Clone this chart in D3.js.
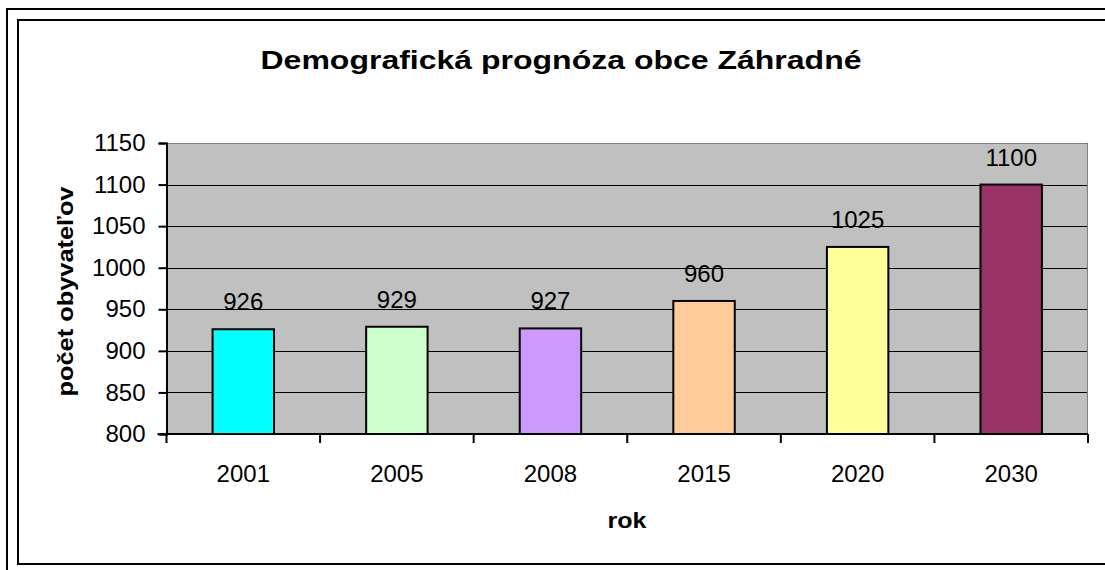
<!DOCTYPE html>
<html>
<head>
<meta charset="utf-8">
<script src="https://cdn.jsdelivr.net/npm/d3@7"></script>
<style>
  body { margin: 0; background: #fff; }
  svg { display: block; font-family: Arial, "Liberation Sans", sans-serif; }
</style>
</head>
<body>
<svg id="chart"></svg>
<script>
// chart values
const years = ["2001", "2005", "2008", "2015", "2020", "2030"];
const population = [926, 929, 927, 960, 1025, 1100];
const barColors = ["#00FFFF", "#CCFFCC", "#CC99FF", "#FFCC99", "#FFFF99", "#993366"];
const yTicks = [800, 850, 900, 950, 1000, 1050, 1100, 1150];

const titleText = "Demografická prognóza obce Záhradné";
const yTitle = "počet obyvateľov";
const xTitle = "rok";

const config = {
  width: 1105,
  height: 570,
  plot: { left: 166.5, top: 143, right: 1088, bottom: 434 },
  plotBg: "#C0C0C0",
};

const svg = d3.select("#chart")
  .attr("width", config.width)
  .attr("height", config.height);

// double frame around the chart object
svg.append("rect")
  .attr("x", 7).attr("y", 9)
  .attr("width", 1200).attr("height", 700)
  .attr("fill", "none").attr("stroke", "#000").attr("stroke-width", 2);
svg.append("rect")
  .attr("x", 18).attr("y", 20)
  .attr("width", 1200).attr("height", 544)
  .attr("fill", "none").attr("stroke", "#000").attr("stroke-width", 2);

const p = config.plot;

// scales
const xScale = d3.scaleBand().domain(years).range([p.left, p.right]).padding(0);
const yScale = d3.scaleLinear().domain([800, 1150]).range([p.bottom, p.top]);
const barWidth = xScale.bandwidth() / 2.5; // gap width 150%

// plot background
svg.append("rect")
  .attr("x", p.left).attr("y", p.top)
  .attr("width", p.right - p.left).attr("height", p.bottom - p.top)
  .attr("fill", config.plotBg);

// gridlines
svg.append("g")
  .selectAll("line")
  .data(yTicks.slice(1))
  .join("line")
  .attr("x1", p.left).attr("x2", p.right)
  .attr("y1", (d) => Math.round(yScale(d)) + 0.5)
  .attr("y2", (d) => Math.round(yScale(d)) + 0.5)
  .attr("stroke", "#000").attr("stroke-width", 1);

// plot border (top and right in gray)
svg.append("path")
  .attr("d", `M${p.left},${p.top + 0.5}H${p.right - 0.5}V${p.bottom}`)
  .attr("fill", "none").attr("stroke", "#808080").attr("stroke-width", 1);

// bars
svg.append("g")
  .selectAll("rect")
  .data(years)
  .join("rect")
  .attr("x", (d) => xScale(d) + (xScale.bandwidth() - barWidth) / 2)
  .attr("y", (d, i) => yScale(population[i]))
  .attr("width", barWidth)
  .attr("height", (d, i) => p.bottom - yScale(population[i]))
  .attr("fill", (d, i) => barColors[i])
  .attr("stroke", "#000").attr("stroke-width", 2);

// value labels
svg.append("g")
  .selectAll("text")
  .data(years)
  .join("text")
  .attr("x", (d) => xScale(d) + xScale.bandwidth() / 2)
  .attr("y", (d, i) => yScale(population[i]) - 19)
  .attr("text-anchor", "middle")
  .style("font-size", "24px")
  .attr("fill", "#000")
  .text((d, i) => population[i]);

// y axis
const yAxis = d3.axisLeft(yScale)
  .tickValues(yTicks)
  .tickFormat(d3.format("d"))
  .tickSize(8)
  .tickPadding(13);
const yAxisG = svg.append("g")
  .attr("transform", `translate(${p.left},0)`)
  .call(yAxis);
yAxisG.select(".domain").attr("stroke", "#000").attr("stroke-width", 2);
yAxisG.selectAll(".tick line").attr("stroke", "#000").attr("stroke-width", 2);
yAxisG.selectAll(".tick text")
  .style("font-size", "24px")
  .style("font-family", "Arial, 'Liberation Sans', sans-serif")
  .attr("fill", "#000");

// x axis: ticks at category boundaries
const xAxisG = svg.append("g")
  .attr("transform", `translate(0,${p.bottom})`);
xAxisG.append("line")
  .attr("x1", p.left - 9).attr("x2", p.right)
  .attr("stroke", "#000").attr("stroke-width", 2);
xAxisG.selectAll(".xtick")
  .data(years.concat(["end"]))
  .join("line")
  .attr("class", "xtick")
  .attr("x1", (d) => (d === "end" ? p.right : xScale(d)))
  .attr("x2", (d) => (d === "end" ? p.right : xScale(d)))
  .attr("y1", 0).attr("y2", 9)
  .attr("stroke", "#000").attr("stroke-width", 2);
xAxisG.selectAll(".xlabel")
  .data(years)
  .join("text")
  .attr("class", "xlabel")
  .attr("x", (d) => xScale(d) + xScale.bandwidth() / 2)
  .attr("y", 48)
  .attr("text-anchor", "middle")
  .style("font-size", "24px")
  .text((d) => d);

// titles (the reference lettering is stretched wider than its height)
svg.append("text")
  .attr("x", 561).attr("y", 69)
  .attr("text-anchor", "middle")
  .attr("textLength", 601)
  .attr("lengthAdjust", "spacingAndGlyphs")
  .style("font-size", "26px").style("font-weight", "bold")
  .text(titleText);

svg.append("text")
  .attr("transform", `translate(73,${(p.top + p.bottom) / 2 + 3}) rotate(-90)`)
  .attr("text-anchor", "middle")
  .attr("textLength", 210)
  .attr("lengthAdjust", "spacingAndGlyphs")
  .style("font-size", "22px").style("font-weight", "bold")
  .text(yTitle);

svg.append("text")
  .attr("x", 627).attr("y", 528)
  .attr("text-anchor", "middle")
  .attr("textLength", 39)
  .attr("lengthAdjust", "spacingAndGlyphs")
  .style("font-size", "22px").style("font-weight", "bold")
  .text(xTitle);
</script>
</body>
</html>
